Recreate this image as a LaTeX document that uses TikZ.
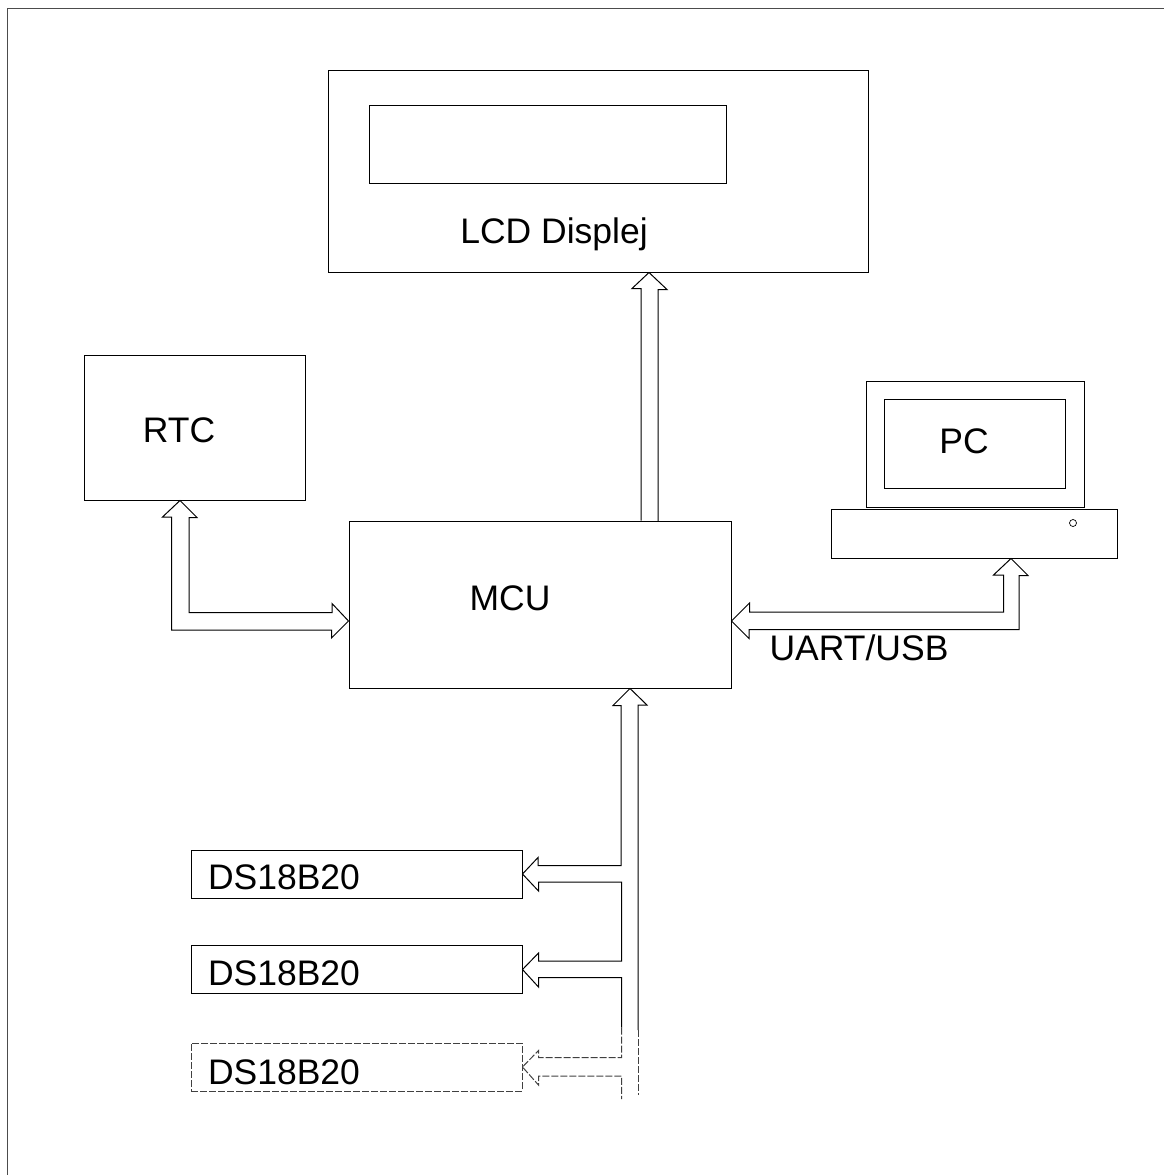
\documentclass[tikz,border=0pt]{standalone}
\usepackage{fontspec}
\setmainfont{Liberation Sans}
\usepackage{xcolor}
\usetikzlibrary{calc}

\tikzset{
  box/.style={draw,inner sep=0pt,line width=1pt},
  name label/.style={inner sep=0pt,font=\fontsize{35.5}{40}\selectfont},
  bus/.style={line width=1pt,line join=miter},
  bus faded/.style={bus,dashed,dash pattern=on 7pt off 2pt,draw=black!75},
  frame/.style={line width=1.2pt,draw=black!70}
}

\begin{document}
\begin{tikzpicture}[x=1pt,y=-1pt]
	\useasboundingbox (0,0) rectangle (1164,1175);
	\draw[frame] (7.2,1175) -- (7.2,8.5) -- (1164,8.5);

	% blocks
	\node[box,minimum width=540pt,minimum height=202pt] (lcd) at (598,171) {};
	\node[box,minimum width=357pt,minimum height=78pt] (lcdscreen) at (547.5,144) {};
	\node[name label] (lcdlabel) at (554,234) {LCD Displej};
	\node[box,minimum width=221pt,minimum height=145pt] (rtc) at (194.5,427.5) {};
	\node[name label] (rtclabel) at (179,430) {RTC};
	\node[box,minimum width=382pt,minimum height=167pt] (mcu) at (540,604.5) {};
	\node[name label] (mculabel) at (510,598) {MCU};

	% PC
	\node[box,minimum width=218pt,minimum height=126pt] (monitor) at (975,444) {};
	\node[box,minimum width=181pt,minimum height=89pt] (screen) at (974.5,443.5) {};
	\node[name label] (pclabel) at (964,441) {PC};
	\node[box,minimum width=286pt,minimum height=49pt] (base) at (974,533.5) {};
	\node[draw,circle,inner sep=0pt,minimum size=7pt,line width=0.7pt] (led) at (1073,523) {};
	\node[name label] (uartlabel) at (859,648) {UART/USB};

	% sensors
	\node[box,minimum width=331pt,minimum height=48pt] (sensora) at (356.5,874) {};
	\node[name label] (sensoralabel) at (284,877) {DS18B20};
	\node[box,minimum width=331pt,minimum height=48pt] (sensorb) at (356.5,969.5) {};
	\node[name label] (sensorblabel) at (284,973) {DS18B20};
	\node[box,bus faded,minimum width=331pt,minimum height=48pt] (sensorc) at (356.5,1067) {};
	\node[name label] (sensorclabel) at (284,1072) {DS18B20};

	% arrow tips on the blocks
	\coordinate (lcdtip) at (lcd.south -| 649,0);
	\coordinate (rtctip) at (rtc.south -| 180,0);
	\coordinate (mcuwest) at (mcu.west |- 0,621);
	\coordinate (mcueast) at (mcu.east |- 0,621);
	\coordinate (mcusouth) at (mcu.south -| 630,0);
	\coordinate (basetip) at (base.south -| 1011,0);

	% MCU to LCD
	\draw[bus] (mcu.north -| 641,0) -- ++(0,-232) -- ++(-9,0) -- (lcdtip)
		-- ++(18,17) -- ++(-9,0) -- ++(0,232);

	% RTC to MCU
	\draw[bus] (rtctip) -- ++(17,17) -- ++(-8,0) -- ++(0,95) -- ++(143,0) -- ++(0,-9)
		-- (mcuwest) -- ++(-17,17) -- ++(0,-8) -- ++(-160,0) -- ++(0,-113) -- ++(-9,0) -- cycle;

	% MCU to PC
	\draw[bus] (mcueast) -- ++(18,-18) -- ++(0,9) -- ++(254,0) -- ++(0,-37) -- ++(-10,0)
		-- (basetip) -- ++(17,17) -- ++(-9,0) -- ++(0,54) -- ++(-270,0) -- ++(0,9) -- cycle;

	% sensors to MCU
	\draw[bus] (638,1030) -- (638,705) -- ++(9,0) -- (mcusouth) -- ++(-17,17) -- ++(8,0)
		-- ++(0,160) -- ++(-83,0) -- ++(0,-8) -- (sensora.east) -- ++(16,17) -- ++(0,-9) -- ++(83,0)
		-- ++(0,79) -- ++(-83,0) -- ++(0,-8) -- (sensorb.east) -- ++(16,17.5) -- ++(0,-9.5) -- ++(83,0)
		-- ++(0,50) coordinate (fadestart);
	\draw[bus faded] (fadestart) -- ++(0,30) -- ++(-83,0) -- ++(0,-7) -- (sensorc.east)
		-- ++(16,18) -- ++(0,-9) -- ++(83,0) -- ++(0,23);
	\draw[bus faded] (638,1030) -- (638,1095);
\end{tikzpicture}
\end{document}
